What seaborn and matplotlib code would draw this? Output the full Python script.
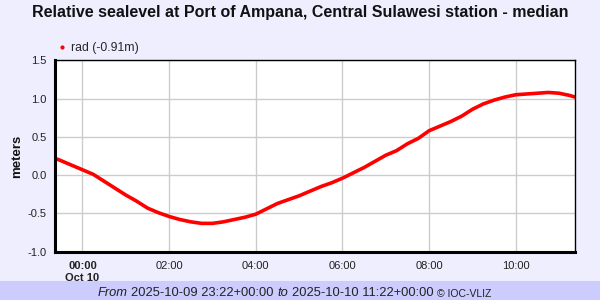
import matplotlib
matplotlib.use("Agg")
import matplotlib.pyplot as plt
import matplotlib.dates as mdates
from matplotlib.lines import Line2D
from matplotlib.text import Annotation
import seaborn as sns
import pandas as pd

# ---- data ----
times = ["2025-10-09 23:22", "2025-10-09 23:30", "2025-10-09 23:45",
         "2025-10-10 00:00", "2025-10-10 00:15", "2025-10-10 00:30", "2025-10-10 00:45",
         "2025-10-10 01:00", "2025-10-10 01:15", "2025-10-10 01:30", "2025-10-10 01:45",
         "2025-10-10 02:00", "2025-10-10 02:15", "2025-10-10 02:30", "2025-10-10 02:45",
         "2025-10-10 03:00", "2025-10-10 03:15", "2025-10-10 03:30", "2025-10-10 03:45",
         "2025-10-10 04:00", "2025-10-10 04:15", "2025-10-10 04:30", "2025-10-10 04:45",
         "2025-10-10 05:00", "2025-10-10 05:15", "2025-10-10 05:30", "2025-10-10 05:45",
         "2025-10-10 06:00", "2025-10-10 06:15", "2025-10-10 06:30", "2025-10-10 06:45",
         "2025-10-10 07:00", "2025-10-10 07:15", "2025-10-10 07:30", "2025-10-10 07:45",
         "2025-10-10 08:00", "2025-10-10 08:15", "2025-10-10 08:30", "2025-10-10 08:45",
         "2025-10-10 09:00", "2025-10-10 09:15", "2025-10-10 09:30", "2025-10-10 09:45",
         "2025-10-10 10:00", "2025-10-10 10:15", "2025-10-10 10:30", "2025-10-10 10:45",
         "2025-10-10 11:00", "2025-10-10 11:15", "2025-10-10 11:22"]
sealevel = [0.22, 0.19, 0.13,
            0.07, 0.01, -0.08, -0.17,
            -0.26, -0.34, -0.43, -0.49,
            -0.54, -0.58, -0.61, -0.63,
            -0.63, -0.61, -0.58, -0.55,
            -0.51, -0.44, -0.37, -0.32,
            -0.27, -0.21, -0.15, -0.10,
            -0.04, 0.03, 0.10, 0.18,
            0.26, 0.32, 0.41, 0.48,
            0.58, 0.64, 0.70, 0.77,
            0.86, 0.93, 0.98, 1.02,
            1.05, 1.06, 1.07, 1.08,
            1.07, 1.04, 1.02]
series_label = "rad (-0.91m)"
title = "Relative sealevel at Port of Ampana, Central Sulawesi station - median"
x_start, x_end = "2025-10-09 23:22", "2025-10-10 11:22"
y_ticks = [-1.0, -0.5, 0.0, 0.5, 1.0, 1.5]
footer_from = "2025-10-09 23:22+00:00"
footer_to = "2025-10-10 11:22+00:00"
footer_credit = "© IOC-VLIZ"

df = pd.DataFrame({"time": pd.to_datetime(times), "level": sealevel})

# ---- style ----
BG = "#eeeeff"
sns.set_style("whitegrid", {"grid.color": "#cccccc", "axes.edgecolor": "black"})
plt.rcParams["font.family"] = ["Liberation Sans", "DejaVu Sans"]

fig = plt.figure(figsize=(6, 3), dpi=100, facecolor=BG)
ax = fig.add_axes([0.0917, 0.161, 0.8666, 0.638])
ax.set_facecolor("white")

sns.lineplot(data=df, x="time", y="level", ax=ax, color="red", linewidth=2.6,
             legend=False)

ax.set_xlim(pd.Timestamp(x_start), pd.Timestamp(x_end))
ax.set_ylim(-1.0, 1.5)
ax.set_yticks(y_ticks)
ax.set_yticklabels([f"{v:.1f}" for v in y_ticks])

ax.xaxis.set_major_locator(mdates.HourLocator(byhour=range(0, 24, 2)))
def fmt(x, pos=None):
    d = mdates.num2date(x)
    if d.hour == 0:
        return d.strftime("%H:%M") + "\n" + d.strftime("%b %d")
    return d.strftime("%H:%M")
ax.xaxis.set_major_formatter(plt.FuncFormatter(fmt))

ax.grid(True, color="#cccccc", linewidth=1.0)
ax.tick_params(axis="both", which="major", length=4, width=1, color="black",
               labelsize=8, labelcolor="#222222", pad=2, direction="out")
ax.tick_params(axis="x", pad=3)
for lab in ax.get_xticklabels():
    if "\n" in lab.get_text():
        lab.set_fontweight("bold")

for side in ["left", "bottom"]:
    ax.spines[side].set_linewidth(2.2)
    ax.spines[side].set_color("black")
for side in ["top", "right"]:
    ax.spines[side].set_linewidth(1.0)
    ax.spines[side].set_color("black")

ax.set_xlabel("")
ax.set_ylabel("meters", fontsize=9.5, fontweight="bold", labelpad=3,
              color="#111111")

# legend
handle = Line2D([], [], marker="o", color="red", linestyle="", markersize=2)
ax.legend(handles=[handle], labels=[series_label], loc="lower left",
          bbox_to_anchor=(-0.01, 1.0), frameon=False, fontsize=8.8,
          handletextpad=0.2, handlelength=1.0, borderaxespad=0.1)

# title
fig.text(0.5, 0.958, title, ha="center", va="center", fontsize=11.5,
         fontweight="bold", color="#111111")

# footer band
band = plt.Rectangle((0, 0), 1, 0.063, transform=fig.transFigure,
                     facecolor="#ccccff", edgecolor="none", zorder=1)
fig.add_artist(band)
t1 = fig.text(0.162, 0.014, "From", fontsize=9.3, style="italic", va="baseline",
              color="#222222", zorder=5)
prev = t1
for txt, st, fs, gap in [(footer_from, "normal", 9.3, 2.7),
                         ("to", "italic", 9.3, 2.7),
                         (footer_to, "normal", 9.3, 2.7),
                         (footer_credit, "normal", 7.5, 2.3)]:
    a = Annotation(txt, xy=(1, 0), xycoords=prev, xytext=(gap, 0),
                   textcoords="offset points", va="bottom", fontsize=fs,
                   style=st, color="#222222", annotation_clip=False)
    a.set_zorder(5)
    fig.add_artist(a)
    prev = a

fig.savefig("out.png", dpi=100, facecolor=BG)
